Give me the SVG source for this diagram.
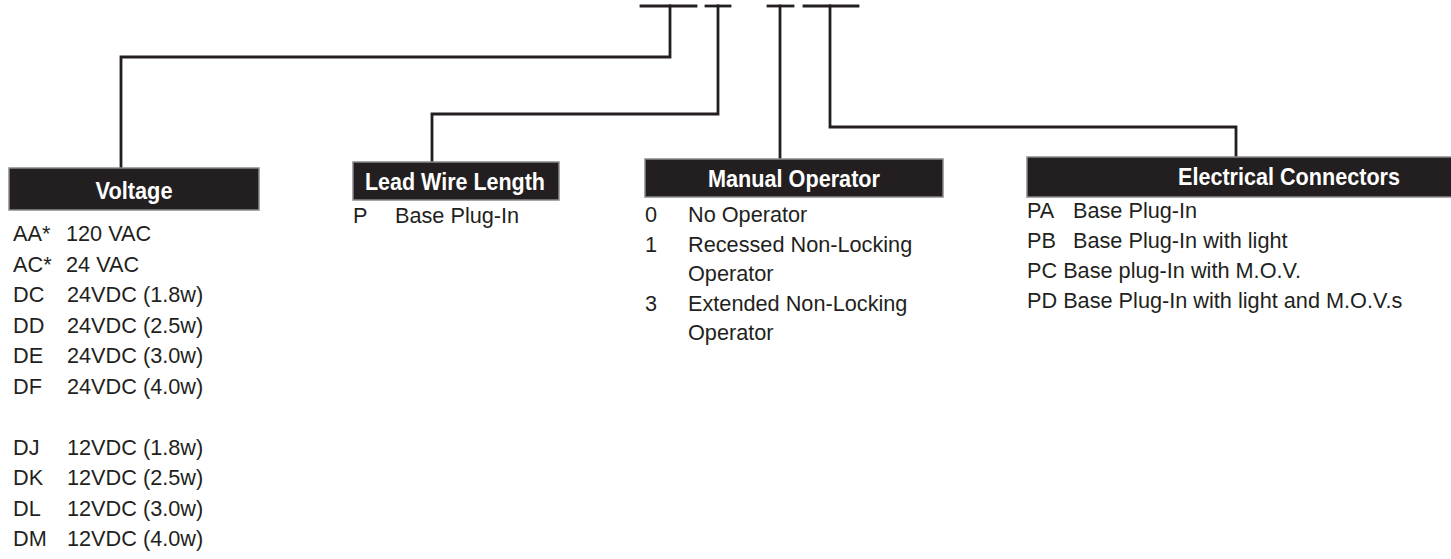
<svg xmlns="http://www.w3.org/2000/svg" width="1451" height="559" viewBox="0 0 1451 559">
<style>
.bar{fill:#231f20;stroke:#8a8a8a;stroke-width:1.5}
.hd{font-family:"Liberation Sans",Arial,sans-serif;font-weight:bold;font-size:24px;fill:#ffffff;text-anchor:middle}
.tx{font-family:"Liberation Sans",Arial,sans-serif;font-size:21.7px;fill:#231f20}
.ln{fill:none;stroke:#231f20;stroke-width:2.8;stroke-linecap:square}
</style>
<rect width="1451" height="559" fill="#ffffff"/>
<g id="connectors">
<line class="ln" x1="641" y1="6" x2="696" y2="6"/>
<line class="ln" x1="706" y1="6" x2="730" y2="6"/>
<line class="ln" x1="768" y1="6" x2="793" y2="6"/>
<line class="ln" x1="804" y1="6" x2="858" y2="6"/>
<polyline class="ln" points="670,6 670,57 121,57 121,167"/>
<polyline class="ln" points="718,6 718,114 432,114 432,161"/>
<polyline class="ln" points="780,6 780,158"/>
<polyline class="ln" points="830,6 830,127 1236,127 1236,156"/>
</g>
<g id="voltage">
<rect class="bar" x="9" y="168" width="250" height="42"/>
<text class="hd" x="134" y="199" textLength="77" lengthAdjust="spacingAndGlyphs">Voltage</text>
<g class="tx">
<text x="13" y="241">AA*</text><text x="66" y="241">120 VAC</text>
<text x="13" y="271.5">AC*</text><text x="66" y="271.5">24 VAC</text>
<text x="13" y="302">DC</text><text x="67" y="302">24VDC (1.8w)</text>
<text x="13" y="332.5">DD</text><text x="67" y="332.5">24VDC (2.5w)</text>
<text x="13" y="363">DE</text><text x="67" y="363">24VDC (3.0w)</text>
<text x="13" y="393.5">DF</text><text x="67" y="393.5">24VDC (4.0w)</text>
<text x="13" y="454.5">DJ</text><text x="67" y="454.5">12VDC (1.8w)</text>
<text x="13" y="485">DK</text><text x="67" y="485">12VDC (2.5w)</text>
<text x="13" y="515.5">DL</text><text x="67" y="515.5">12VDC (3.0w)</text>
<text x="13" y="546">DM</text><text x="67" y="546">12VDC (4.0w)</text>
</g>
</g>
<g id="lead-wire-length">
<rect class="bar" x="353" y="162" width="206" height="38"/>
<text class="hd" x="455" y="190" textLength="180" lengthAdjust="spacingAndGlyphs">Lead Wire Length</text>
<g class="tx">
<text x="353" y="223">P</text><text x="395" y="223">Base Plug-In</text>
</g>
</g>
<g id="manual-operator">
<rect class="bar" x="645" y="159" width="298" height="38"/>
<text class="hd" x="794" y="187" textLength="172" lengthAdjust="spacingAndGlyphs">Manual Operator</text>
<g class="tx">
<text x="645" y="222">0</text><text x="688" y="222">No Operator</text>
<text x="645" y="251.5">1</text><text x="688" y="251.5">Recessed Non-Locking</text>
<text x="688" y="281">Operator</text>
<text x="645" y="310.5">3</text><text x="688" y="310.5">Extended Non-Locking</text>
<text x="688" y="340">Operator</text>
</g>
</g>
<g id="electrical-connectors">
<rect class="bar" x="1027" y="157" width="430" height="40"/>
<text class="hd" x="1289" y="185" textLength="222" lengthAdjust="spacingAndGlyphs">Electrical Connectors</text>
<g class="tx">
<text x="1027" y="218">PA</text><text x="1073" y="218">Base Plug-In</text>
<text x="1027" y="248">PB</text><text x="1073" y="248">Base Plug-In with light</text>
<text x="1027" y="278">PC Base plug-In with M.O.V.</text>
<text x="1027" y="308">PD Base Plug-In with light and M.O.V.s</text>
</g>
</g>
</svg>
